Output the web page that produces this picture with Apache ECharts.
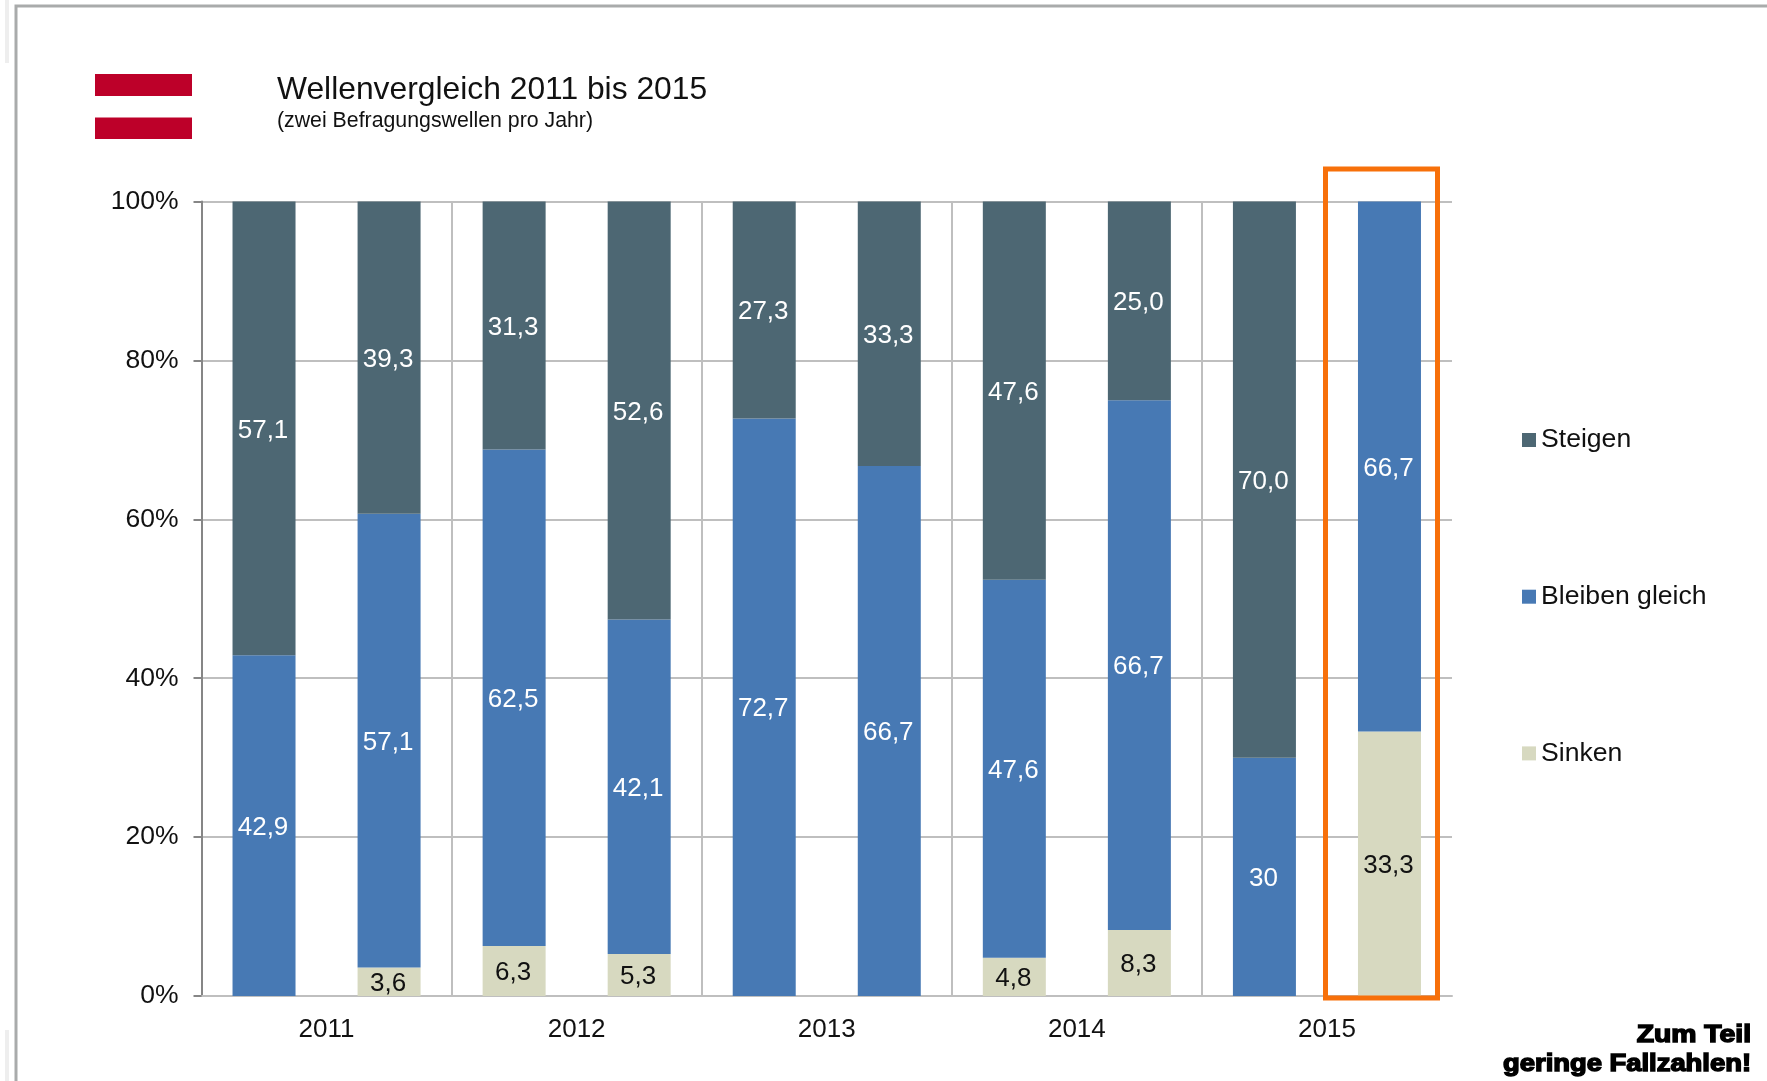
<!DOCTYPE html>
<html><head><meta charset="utf-8">
<style>html,body{margin:0;padding:0;background:#fff}#c{width:1767px;height:1081px}</style>
<script src="https://cdn.jsdelivr.net/npm/echarts@6/dist/echarts.min.js"></script>
</head><body><div id="c"></div>
<script>
const waves = ['2011-1','2011-2','2012-1','2012-2','2013-1','2013-2','2014-1','2014-2','2015-1','2015-2'];
const years = ['2011','2012','2013','2014','2015'];
const steigen = [57.1,39.3,31.3,52.6,27.3,33.3,47.6,25.0,70.0,null];
const gleich  = [42.9,57.1,62.5,42.1,72.7,66.7,47.6,66.7,30,66.7];
const sinken  = [null,3.6,6.3,5.3,null,null,4.8,8.3,null,33.3];
const FONT = '"Liberation Sans", Arial, sans-serif';
const fmt = p => p.value == null ? '' : (p.value === 30 ? '30' : p.value.toFixed(1).replace('.', ','));
const ser = (name, data, color, labelColor) => ({
  name, type:'bar', stack:'a', data, barWidth:63, xAxisIndex:0,
  itemStyle:{color},
  label:{show:true, position:'inside', offset:[-1,2], formatter:fmt, color:labelColor, fontFamily:FONT, fontSize:26}
});
const chart = echarts.init(document.getElementById('c'));
chart.setOption({
  animation:false,
  backgroundColor:'#fff',
  title:[
    {text:'Wellenvergleich 2011 bis 2015', left:277, top:74, textStyle:{fontFamily:FONT,fontSize:31.8,fontWeight:'normal',color:'#111'}, padding:0},
    {text:'(zwei Befragungswellen pro Jahr)', left:277, top:111, textStyle:{fontFamily:FONT,fontSize:21.3,fontWeight:'normal',color:'#111'}, padding:0}
  ],
  legend:{
    orient:'vertical', left:1517, top:421.5, itemWidth:14, itemHeight:14, itemGap:129.7, icon:'rect',
    data:['Steigen','Bleiben gleich','Sinken'],
    textStyle:{fontFamily:FONT,fontSize:26.6,color:'#111'}, selectedMode:false
  },
  grid:{left:201.5, right:315, top:201.5, bottom:85},
  xAxis:[
    {type:'category', data:waves, position:'bottom',
     axisLabel:{show:false}, axisTick:{show:false},
     axisLine:{show:true,onZero:false,lineStyle:{color:'#BFBFBF',width:2}}, splitLine:{show:false}},
    {type:'category', data:years, position:'bottom',
     axisLabel:{show:true,interval:0,margin:21,color:'#111',fontFamily:FONT,fontSize:26},
     axisTick:{show:false}, axisLine:{show:false},
     splitLine:{show:true,interval:0,showMinLine:false,showMaxLine:false,lineStyle:{color:'#BFBFBF',width:2}}}
  ],
  yAxis:{type:'value', min:0, max:100, interval:20,
    axisLabel:{formatter:'{value}%',margin:23,padding:[7,0,0,0],color:'#111',fontFamily:FONT,fontSize:26.5},
    axisLine:{show:true,lineStyle:{color:'#868686',width:2}},
    axisTick:{show:true,length:8,lineStyle:{color:'#868686',width:2}},
    splitLine:{show:true,lineStyle:{color:'#BFBFBF',width:2}}},
  series:[
    ser('Sinken', sinken, '#D7D9C0', '#111'),
    ser('Bleiben gleich', gleich, '#4779B4', '#fff'),
    ser('Steigen', steigen, '#4D6773', '#fff')
  ],
  graphic:[
    {type:'rect',shape:{x:16,y:6,width:1760,height:1090},style:{fill:'none',stroke:'#A9ABAB',lineWidth:3},z:1,silent:true},
    {type:'rect',shape:{x:5,y:0,width:4,height:63},style:{fill:'#EEEEEE'},silent:true},
    {type:'rect',shape:{x:5,y:1030,width:4,height:51},style:{fill:'#EEEEEE'},silent:true},
    {type:'rect',shape:{x:95,y:74,width:97,height:65},style:{fill:'#BD0029'},silent:true},
    {type:'rect',shape:{x:95,y:96,width:97,height:21.5},style:{fill:'#fff'},silent:true},
    {type:'rect',shape:{x:1325.5,y:169,width:112,height:829},style:{fill:'none',stroke:'#F7700A',lineWidth:5},z:100,silent:true},
    {type:'text',x:1751,y:1036,scaleX:1.23,style:{x:0,y:0,text:'Zum Teil',align:'right',verticalAlign:'middle',font:'bold 23px '+FONT,fill:'#000',stroke:'#000',lineWidth:1.4},silent:true},
    {type:'text',x:1751,y:1065,scaleX:1.19,style:{x:0,y:0,text:'geringe Fallzahlen!',align:'right',verticalAlign:'middle',font:'bold 23px '+FONT,fill:'#000',stroke:'#000',lineWidth:1.4},silent:true}
  ]
});
</script></body></html>
